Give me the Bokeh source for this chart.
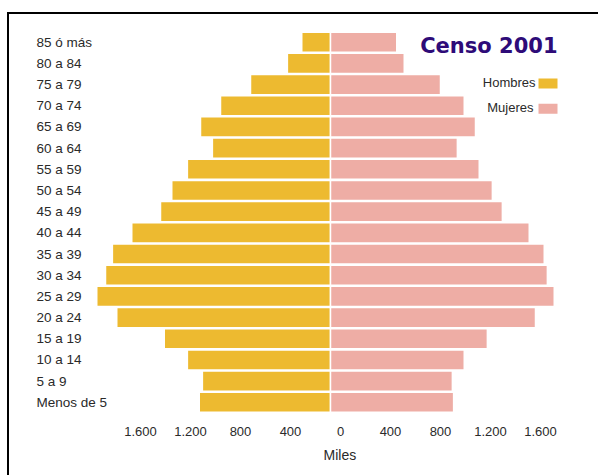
from bokeh.plotting import figure
from bokeh.models import (Range1d, LinearAxis, FixedTicker, Title, ColumnDataSource)
from bokeh.core.properties import value
from bokeh.embed import file_html
from bokeh.resources import INLINE

# ---------------- data (thousands of people) ----------------
age_groups = ["Menos de 5", "5 a 9", "10 a 14", "15 a 19", "20 a 24", "25 a 29",
              "30 a 34", "35 a 39", "40 a 44", "45 a 49", "50 a 54", "55 a 59",
              "60 a 64", "65 a 69", "70 a 74", "75 a 79", "80 a 84", "85 ó más"]
hombres = [1050, 1025, 1145, 1330, 1710, 1870, 1800, 1745, 1590, 1360, 1270, 1145,
           945, 1040, 880, 640, 345, 230]
mujeres = [985, 975, 1070, 1255, 1640, 1790, 1735, 1710, 1590, 1375, 1295, 1190,
           1015, 1160, 1070, 880, 590, 530]
tick_values = [-1600, -1200, -800, -400, 0, 400, 800, 1200, 1600]
tick_labels = ["1.600", "1.200", "800", "400", "0", "400", "800", "1.200", "1.600"]
series_names = ["Hombres", "Mujeres"]
title_text = "Censo 2001"
axis_title = "Miles"

# ---------------- styles ----------------
C_MALE = "#EDBA30"
C_FEMALE = "#EEADA5"
C_TITLE = "#2E0B78"
C_TEXT = "#2a2a2a"
FONT = "Liberation Sans"

ypos = list(range(len(age_groups)))
src = ColumnDataSource(dict(y=ypos, grupo=age_groups,
                            male_left=[-v for v in hombres], zero=[0] * len(ypos),
                            female_right=mujeres))

p = figure(width=598, height=475, output_backend="svg", toolbar_location=None,
           x_axis_location=None, y_axis_location=None,
           x_range=Range1d(-2640, 2144), y_range=Range1d(-0.859, 18.969),
           min_border_left=0, min_border_right=0, min_border_top=0,
           min_border_bottom=55)
p.outline_line_color = None
p.background_fill_color = "white"
p.border_fill_color = "white"
p.grid.grid_line_color = None

p.hbar(y="y", left="male_left", right="zero", height=0.95, source=src,
       fill_color=C_MALE, line_color="white", line_width=1.5)
p.hbar(y="y", left="zero", right="female_right", height=0.95, source=src,
       fill_color=C_FEMALE, line_color="white", line_width=1.5)

# category labels (left aligned like the original)
p.text(x=-2352, y="y", text="grupo", source=src, text_align="left",
       text_baseline="middle", text_font=value(FONT), text_font_size="13.5px",
       text_color=C_TEXT)

# x axis: labels sit ~10px right of the bar origin in the original
p.extra_x_ranges = {"ticks": Range1d(-2640 - 80, 2144 - 80)}
xaxis = LinearAxis(x_range_name="ticks",
                   ticker=FixedTicker(ticks=tick_values),
                   major_label_overrides={v: l for v, l in zip(tick_values, tick_labels)})
xaxis.axis_line_color = None
xaxis.major_tick_line_color = None
xaxis.minor_tick_line_color = None
xaxis.major_tick_out = 0
xaxis.major_label_standoff = 6
xaxis.major_label_text_font = FONT
xaxis.major_label_text_font_size = "13px"
xaxis.major_label_text_color = C_TEXT
p.add_layout(xaxis, "below")

p.add_layout(Title(text=axis_title, align="left", offset=323, standoff=12,
                   text_font=FONT, text_font_size="14px", text_font_style="normal",
                   text_color=C_TEXT), "below")

# title
p.text(x=[1816], y=[16.84], text=[title_text], text_align="right",
       text_baseline="middle", text_font=value("DejaVu Sans"),
       text_font_style="bold", text_font_size="21px", text_color=C_TITLE)

# legend (label then swatch, as in the original)
p.text(x=[1640, 1624], y=[15.097, 13.917], text=series_names, text_align="right",
       text_baseline="middle", text_font=value(FONT),
       text_font_size="13px", text_color=C_TEXT)
p.rect(x=[1740, 1740], y=[15.05, 13.86], width=152, height=0.472,
       fill_color=[C_MALE, C_FEMALE], line_color=None)

# frame border of the original graphic (runs off the right and bottom edges)
p.stylesheets = [
    ":host::after { content: ''; position: absolute; left: 7px; top: 12px; "
    "right: 0; bottom: 0; border-top: 2px solid #000; border-left: 2px solid #000; "
    "pointer-events: none; }"
]

open("out.html", "w").write(file_html(p, INLINE))
